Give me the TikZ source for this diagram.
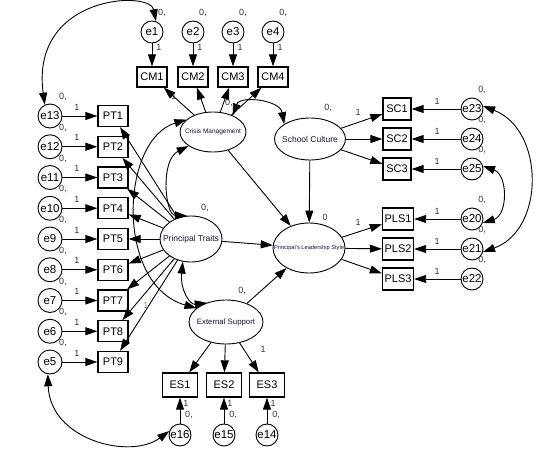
\documentclass[tikz,border=0pt]{standalone}
\usepackage{fontspec}
\setmainfont{Liberation Sans}
\usetikzlibrary{arrows.meta,shapes.geometric}
\definecolor{lblue}{RGB}{20,20,50}
\definecolor{orng}{RGB}{205,120,60}
\begin{document}
\begin{tikzpicture}[x=1pt,y=-1pt,line width=0.9pt,
  >={Triangle[length=12pt,width=8pt]},
  lat/.style={ellipse,draw,line width=0.9pt,inner sep=0pt},
  obs/.style={rectangle,draw,line width=1.3pt,minimum height=21pt,inner sep=0pt,font=\fontsize{11}{12}\selectfont},
  err/.style={circle,draw,line width=0.9pt,minimum size=22pt,inner sep=0pt,font=\fontsize{11.5}{12}\selectfont},
  ltxt/.style={inner sep=0pt,text=lblue},
  lab/.style={inner sep=0pt,font=\fontsize{9}{10}\selectfont,text=black!80},
]
\useasboundingbox (0,0) rectangle (538,452);
% latent variables
\node[lat,minimum width=66pt,minimum height=40pt] (cm) at (213,132) {};
\node[ltxt,font=\fontsize{6.5}{7}\selectfont] (cmt) at (cm) {Crisis Management};
\node[lat,minimum width=71pt,minimum height=42pt] (sc) at (310,139) {};
\node[ltxt,font=\fontsize{8.5}{9}\selectfont] (sct) at (sc) {School Culture};
\node[lat,minimum width=72pt,minimum height=50pt] (pls) at (309,248) {};
\node[ltxt,font=\fontsize{5.7}{6}\selectfont] (plst) at (pls) {Principal's Leadership Style};
\node[lat,minimum width=62pt,minimum height=46pt] (pt) at (191,239) {};
\node[ltxt,font=\fontsize{8.5}{9}\selectfont] (ptt) at (pt) {Principal Traits};
\node[lat,minimum width=74pt,minimum height=44pt] (es) at (226,322) {};
\node[ltxt,font=\fontsize{7.8}{8}\selectfont] (est) at (es) {External Support};
% crisis management indicators
\foreach \i/\x in {1/152,2/193,3/233,4/273} {
  \node[err] (e\i) at (\x,32) {e\i};
  \node[obs,minimum width=30pt,minimum height=20pt] (cm\i) at (\x,77) {CM\i};
  \draw[->] (e\i) -- (cm\i);
  \draw[->] (cm) -- (cm\i);
  \node[lab] (z\i) at (\x+10,13) {0,};
  \node[lab] (o\i) at (\x+7,47) {1};
}
% principal traits indicators
\foreach \i/\e in {1/13,2/12,3/11,4/10,5/9,6/8,7/7,8/6,9/5} {
  \pgfmathsetmacro\yy{116+30.75*(\i-1)}
  \node[obs,minimum width=30pt] (pt\i) at (113,\yy) {PT\i};
  \node[err,minimum size=24pt] (e\e) at (50,\yy) {e\e};
  \draw[->] (e\e) -- (pt\i);
  \draw[->] (pt) -- (pt\i);
  \node[lab] (z\e) at (63,\yy-19) {0,};
  \node[lab] (o\e) at (77,\yy-9) {1};
}
% school culture indicators
\foreach \s/\e/\yy in {1/23/109,2/24/139,3/25/169} {
  \node[obs,minimum width=28pt,minimum height=22pt] (sc\s) at (397,\yy) {SC\s};
  \node[err] (e\e) at (472,\yy) {e\e};
  \draw[->] (e\e) -- (sc\s);
  \draw[->] (sc) -- (sc\s);
  \node[lab] (z\e) at (482,\yy-19) {0,};
  \node[lab] (o\e) at (437,\yy-8) {1};
}
% leadership style indicators
\foreach \s/\e/\yy in {1/20/219,2/21/249,3/22/279} {
  \node[obs,minimum width=31pt,minimum height=22pt] (pls\s) at (398,\yy) {PLS\s};
  \node[err] (e\e) at (472,\yy) {e\e};
  \draw[->] (e\e) -- (pls\s);
  \draw[->] (pls) -- (pls\s);
  \node[lab] (z\e) at (482,\yy-19) {0,};
  \node[lab] (o\e) at (437,\yy-8) {1};
}
% external support indicators
\foreach \s/\e/\x in {1/16/180,2/15/224,3/14/267} {
  \node[obs,minimum width=35pt,minimum height=24pt] (es\s) at (\x,385) {ES\s};
  \node[err] (e\e) at (\x,435) {e\e};
  \draw[->] (e\e) -- (es\s);
  \draw[->] (es) -- (es\s);
  \node[lab] (o\e) at (\x+6,403) {1};
  \node[lab] (z\e) at (\x+9,415) {0,};
}
% structural paths
\draw[->] (cm) -- (pls);
\draw[->] (sc) -- (pls);
\draw[->] (pt) -- (pls);
\draw[->] (es) -- (pls);
% covariances
\draw[<->] (cm.40) .. controls (240,95) and (280,100) .. (sc.150);
\draw[<->] (pt.100) .. controls (165,215) and (160,160) .. (cm.210);
\draw[<->] (pt.250) .. controls (180,290) and (190,305) .. (es.135);
\draw[<->] (cm.155) .. controls (120,140) and (115,285) .. (es.155);
\draw[<->] (e13.115) .. controls (30,-5) and (150,-10) .. (e1.70);
\draw[<->] (e5.260) .. controls (50,440) and (130,460) .. (e16.160);
\draw[<->] (e23.15) .. controls (545,130) and (545,230) .. (e21.-15);
\draw[<->] (e25.15) .. controls (508,175) and (508,215) .. (e20.-20);
% other labels
\node[lab] (l1) at (174,96) {1};
\node[lab] (l2) at (229,103) {0,};
\node[lab] (l3) at (205,208) {0,};
\node[lab] (l4) at (242,291) {0,};
\node[lab,text=orng] (l5) at (146,305) {1};
\node[lab] (l6) at (328,108) {0,};
\node[lab] (l7) at (358,112) {1};
\node[lab] (l8) at (325,217) {0};
\node[lab] (l9) at (358,222) {1};
\node[lab] (l10) at (263,349) {1};
\end{tikzpicture}
\end{document}
